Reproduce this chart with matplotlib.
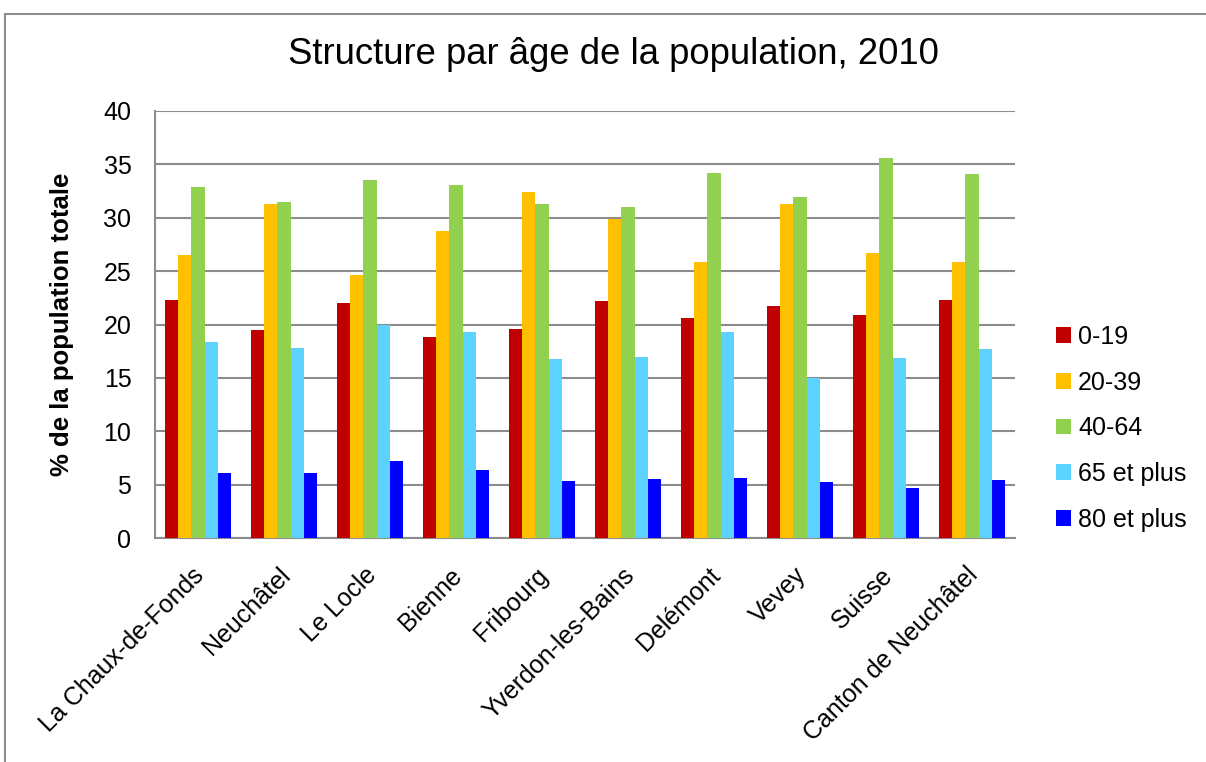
import numpy as np
import matplotlib
matplotlib.use('Agg')
import matplotlib.pyplot as plt
from matplotlib.patches import Rectangle
from matplotlib.transforms import ScaledTranslation

plt.rcParams['font.family'] = ['Liberation Sans', 'DejaVu Sans']

villes = ['La Chaux-de-Fonds', 'Neuchâtel', 'Le Locle', 'Bienne', 'Fribourg',
          'Yverdon-les-Bains', 'Delémont', 'Vevey', 'Suisse', 'Canton de Neuchâtel']
age_0_19 = [22.3, 19.5, 22.0, 18.8, 19.6, 22.2, 20.6, 21.7, 20.9, 22.3]
age_20_39 = [26.5, 31.3, 24.6, 28.8, 32.4, 29.9, 25.9, 31.3, 26.7, 25.9]
age_40_64 = [32.9, 31.5, 33.5, 33.1, 31.3, 31.0, 34.2, 31.9, 35.6, 34.1]
age_65_plus = [18.4, 17.8, 20.0, 19.3, 16.8, 17.0, 19.3, 15.0, 16.9, 17.7]
age_80_plus = [6.1, 6.1, 7.2, 6.4, 5.3, 5.5, 5.6, 5.2, 4.7, 5.4]

series = [age_0_19, age_20_39, age_40_64, age_65_plus, age_80_plus]
labels = ['0-19', '20-39', '40-64', '65 et plus', '80 et plus']
colors = ['#C00000', '#FFC000', '#92D050', '#5BD2FF', '#0000FF']

fig = plt.figure(figsize=(12.06, 7.62), dpi=100)
ax = fig.add_axes([155 / 1206, 1 - 538 / 762, 860 / 1206, 427 / 762])

x = np.arange(len(villes))
w = 0.155
for i, (vals, lab, col) in enumerate(zip(series, labels, colors)):
    ax.bar(x + (i - 2) * w, vals, w, color=col, label=lab, zorder=3)

ax.set_xlim(-0.5, len(villes) - 0.5)
ax.set_ylim(0, 40)
ax.set_yticks(range(0, 41, 5))
ax.yaxis.grid(True, color='#8C8C8C', linewidth=1.5, zorder=0)
ax.set_axisbelow(True)
for s in ['top', 'right']:
    ax.spines[s].set_visible(False)
for s in ['left', 'bottom']:
    ax.spines[s].set_color('#8C8C8C')
    ax.spines[s].set_linewidth(1.5)
ax.tick_params(axis='y', labelsize=18, length=0, pad=17)
ax.tick_params(axis='x', labelsize=18, length=0, pad=18)
ax.set_xticks(x)
ax.set_xticklabels(villes, rotation=45, ha='right', rotation_mode='anchor')
shift = ScaledTranslation(-6 / 100, 0, fig.dpi_scale_trans)
for t in ax.get_xticklabels():
    t.set_transform(t.get_transform() + shift)
ax.set_ylabel('% de la population totale', fontsize=18.5, fontweight='bold', labelpad=21)

fig.suptitle('Structure par âge de la population, 2010', fontsize=26.3, x=613 / 1206, y=1 - 55 / 762, va='center')

ax.legend(loc='center left', bbox_to_anchor=(1.021, 0.257), frameon=False, fontsize=18,
          handlelength=0.6, handleheight=0.6, labelspacing=0.87, handletextpad=0.3)

fig.patches.append(Rectangle((5 / 1206, -0.05), 1.2, 1 - 14 / 762 + 0.05, transform=fig.transFigure,
                             fill=False, edgecolor='#8C8C8C', linewidth=1.5))

fig.savefig('out.png', dpi=100)
